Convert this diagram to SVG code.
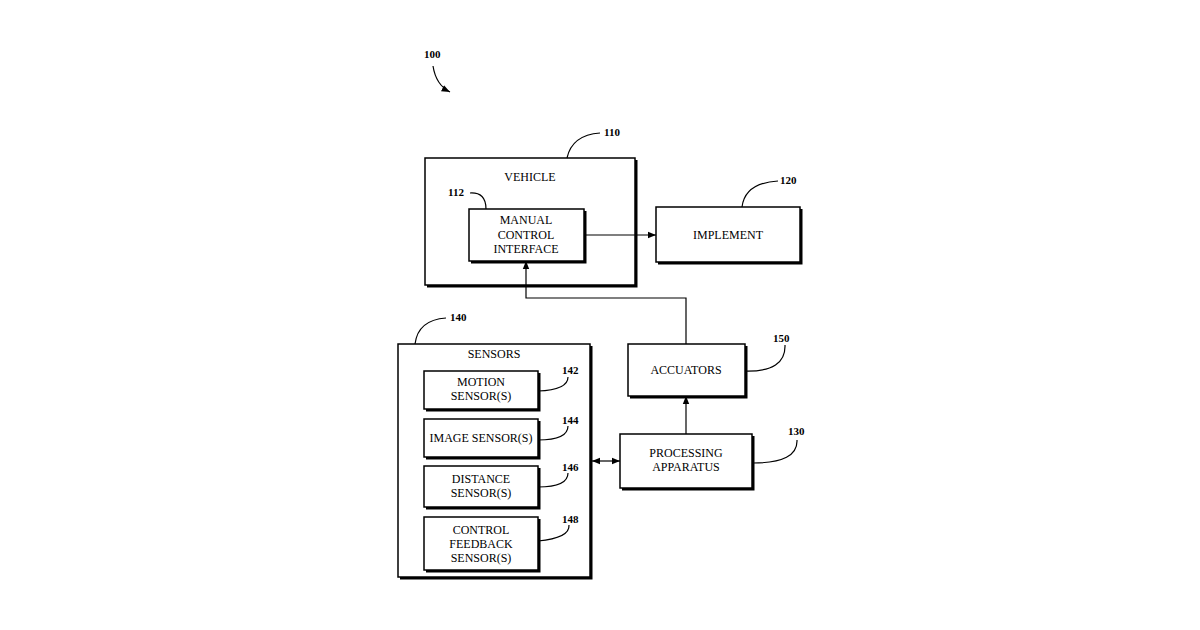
<svg xmlns="http://www.w3.org/2000/svg" width="1200" height="630" viewBox="0 0 1200 630">
<style>
.b{fill:#fff;stroke:#000;stroke-width:1.5}
.s{fill:none;stroke:#000;stroke-width:3}
.t{font-family:"Liberation Serif",serif;font-size:12px;text-anchor:middle}
.n{font-family:"Liberation Serif",serif;font-size:11px;font-weight:bold}
.l{fill:none;stroke:#000;stroke-width:1.2}
</style>
<defs>
<marker id="a" viewBox="0 0 10 10" refX="10" refY="5" markerWidth="7" markerHeight="7" orient="auto-start-reverse"><path d="M0,1 L10,5 L0,9 z"/></marker>
</defs>
<rect width="1200" height="630" fill="#fff"/>
<g id="n100"><text class="n" x="424" y="58">100</text><path class="l" d="M433,66 Q436,85 450,92" marker-end="url(#a)"/></g>
<g id="vehicle"><path class="s" d="M636,160 V286 H427"/><rect class="b" x="425" y="158" width="210" height="127"/><text class="t" x="530" y="181">VEHICLE</text>
<text class="n" x="448" y="196">112</text><path class="l" d="M470,193 Q486,192 486,209"/>
<text class="n" x="604" y="136">110</text><path class="l" d="M567,158 Q572,135 600,133"/></g>
<g id="manual"><path class="s" d="M585,211 V262 H471"/><rect class="b" x="469" y="209" width="115" height="52"/><text class="t" x="526" y="224">MANUAL</text><text class="t" x="526" y="239">CONTROL</text><text class="t" x="526" y="253">INTERFACE</text></g>
<g id="implement"><path class="s" d="M801,209 V263 H658"/><rect class="b" x="656" y="207" width="144" height="55"/><text class="t" x="728" y="239">IMPLEMENT</text>
<text class="n" x="780" y="184">120</text><path class="l" d="M742,207 Q745,183 778,181"/></g>
<g id="sensors"><path class="s" d="M591,346 V578 H400"/><rect class="b" x="398" y="344" width="192" height="233"/><text class="t" x="494" y="358">SENSORS</text>
<text class="n" x="450" y="321">140</text><path class="l" d="M415,344 Q418,320 446,318"/></g>
<g id="motion"><path class="s" d="M539,373 V410 H426"/><rect class="b" x="424" y="371" width="114" height="38"/><text class="t" x="481" y="386">MOTION</text><text class="t" x="481" y="400">SENSOR(S)</text>
<text class="n" x="562" y="374">142</text><path class="l" d="M538,391 Q568,390 568,377"/></g>
<g id="image"><path class="s" d="M539,421 V458 H426"/><rect class="b" x="424" y="419" width="114" height="38"/><text class="t" x="481" y="442">IMAGE SENSOR(S)</text>
<text class="n" x="562" y="424">144</text><path class="l" d="M538,440 Q568,440 568,426"/></g>
<g id="distance"><path class="s" d="M539,468 V508 H426"/><rect class="b" x="424" y="466" width="114" height="41"/><text class="t" x="481" y="483">DISTANCE</text><text class="t" x="481" y="497">SENSOR(S)</text>
<text class="n" x="562" y="471">146</text><path class="l" d="M538,487 Q568,487 568,473"/></g>
<g id="control"><path class="s" d="M539,519 V571 H426"/><rect class="b" x="424" y="517" width="114" height="53"/><text class="t" x="481" y="534">CONTROL</text><text class="t" x="481" y="548">FEEDBACK</text><text class="t" x="481" y="562">SENSOR(S)</text>
<text class="n" x="562" y="523">148</text><path class="l" d="M538,541 Q570,538 569,525"/></g>
<g id="accuators"><path class="s" d="M746,346 V397 H630"/><rect class="b" x="628" y="344" width="117" height="52"/><text class="t" x="686" y="374">ACCUATORS</text>
<text class="n" x="773" y="342">150</text><path class="l" d="M745,371 Q786,372 785,345"/></g>
<g id="processing"><path class="s" d="M753,436 V489 H622"/><rect class="b" x="620" y="434" width="132" height="54"/><text class="t" x="686" y="457">PROCESSING</text><text class="t" x="686" y="471">APPARATUS</text>
<text class="n" x="788" y="435">130</text><path class="l" d="M753,463 Q798,463 797,440"/></g>
<g id="connectors" fill="none" stroke="#000" stroke-width="1.2">
<path d="M584,235 H656" marker-end="url(#a)"/>
<path d="M686,344 V298 H526 V261" marker-end="url(#a)"/>
<path d="M686,434 V396" marker-end="url(#a)"/>
<path d="M592,461 H620" marker-start="url(#a)" marker-end="url(#a)"/>
</g>
</svg>
